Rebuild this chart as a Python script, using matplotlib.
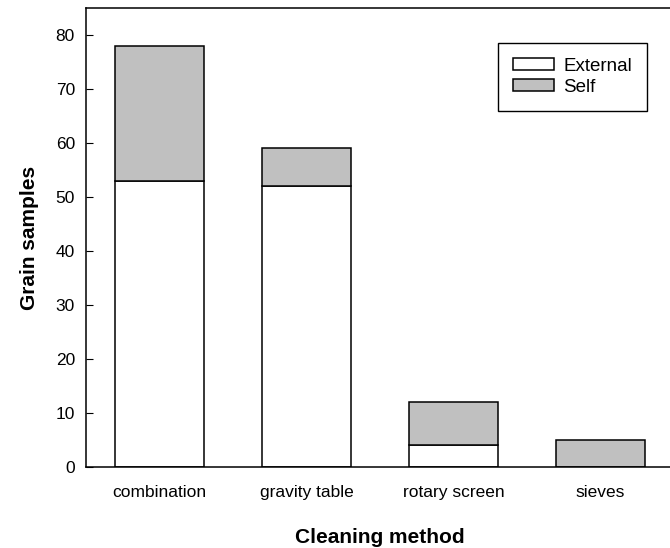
import matplotlib.pyplot as plt
import numpy as np

plt.rcParams['font.family'] = ['Liberation Sans', 'DejaVu Sans']

methods = ['combination', 'gravity table', 'rotary screen', 'sieves']
external = [53, 52, 4, 0]
self_cleaned = [25, 7, 8, 5]

fig = plt.figure(figsize=(6.7, 5.48), dpi=100)
ax = fig.add_axes([86 / 670, 81 / 548, 588 / 670, 459 / 548])

x = np.arange(len(methods))
ax.bar(x, external, width=0.6, color='white', edgecolor='black', linewidth=1.1,
       label='External')
ax.bar(x, self_cleaned, width=0.6, bottom=external, color='#c0c0c0',
       edgecolor='black', linewidth=1.1, label='Self')

ax.set_xlim(-0.5, 3.5)
ax.set_ylim(0, 85)
ax.set_yticks(range(0, 81, 10))
ax.set_xticks(x)
ax.set_xticklabels(methods, fontsize=12.5)
ax.tick_params(axis='y', direction='in', length=5, labelsize=12.5, pad=8)
ax.tick_params(axis='x', length=0, pad=13)
for s in ax.spines.values():
    s.set_linewidth(1.1)

ax.set_xlabel('Cleaning method', fontsize=15, fontweight='bold', labelpad=20)
ax.set_ylabel('Grain samples', fontsize=15, fontweight='bold', labelpad=12)

leg = ax.legend(loc='upper right', bbox_to_anchor=((647 - 86) / 588, 1 - 35 / 459),
                bbox_transform=ax.transAxes, fancybox=False, edgecolor='black',
                framealpha=1, fontsize=13.5, handlelength=2.2, handleheight=0.6,
                borderpad=0.8, labelspacing=0.2, handletextpad=0.5,
                borderaxespad=0)
leg.get_frame().set_linewidth(1.0)

fig.savefig('out.png', dpi=100)
